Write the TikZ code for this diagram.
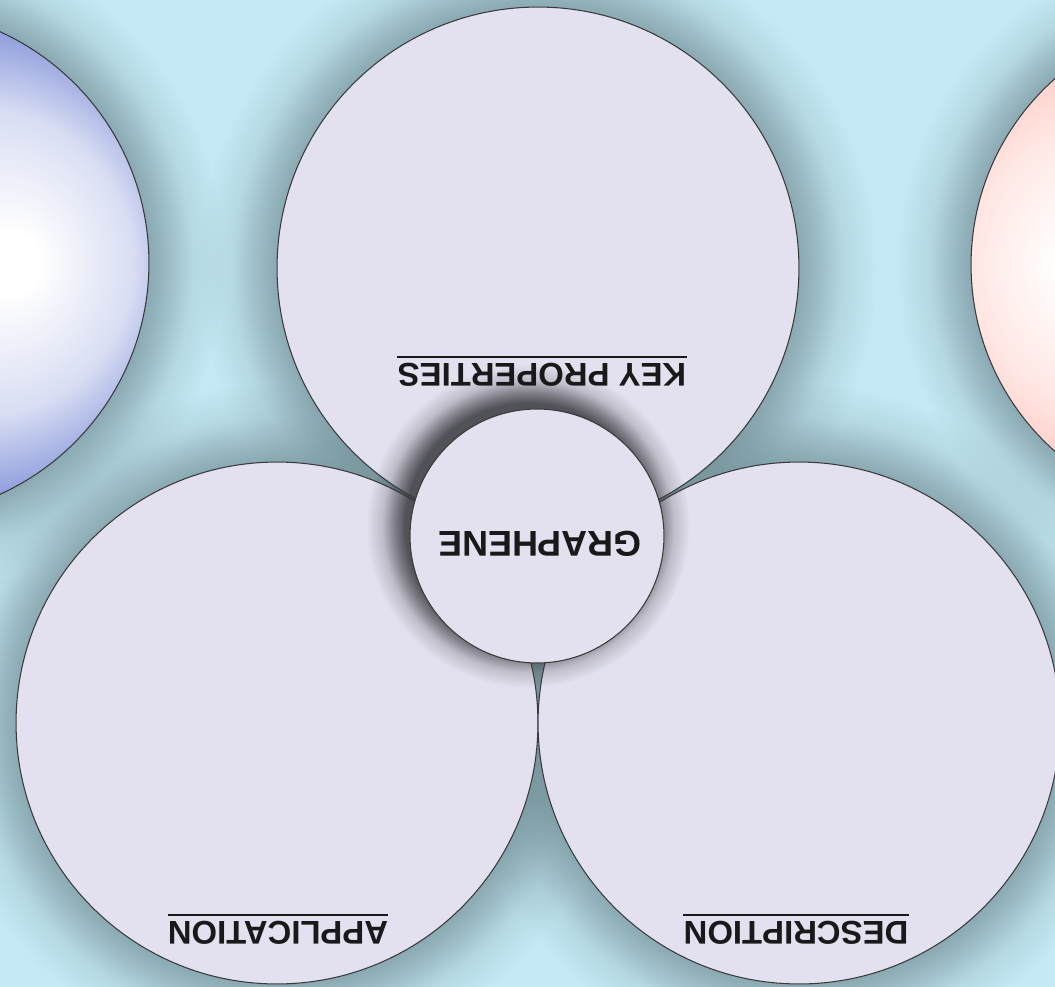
\documentclass[tikz,border=0pt]{standalone}
\usepackage{fontspec}
\usetikzlibrary{fadings}
\newfontfamily\lblfont{Liberation Sans}
\definecolor{bgblue}{HTML}{C5EAF5}
\definecolor{lavender}{HTML}{E3E1EF}
\definecolor{shadowgrey}{HTML}{6F8B93}
\definecolor{darkshade}{HTML}{38383E}
\definecolor{outline}{HTML}{3A3A3A}
\definecolor{sphereblue}{HTML}{7F90D8}
\definecolor{spherepink}{HTML}{FFC2BA}
\pgfdeclareradialshading{halo shading}{\pgfpointorigin}{color(0bp)=(pgftransparent!0); color(19bp)=(pgftransparent!0); color(20.5bp)=(pgftransparent!30); color(22.5bp)=(pgftransparent!75); color(25bp)=(pgftransparent!100); color(50bp)=(pgftransparent!100)}
\pgfdeclarefading{halo}{\pgfuseshading{halo shading}}
\pgfdeclareradialshading{blue sphere}{\pgfpoint{12bp}{0bp}}{color(0bp)=(white); color(3bp)=(white); color(15bp)=(sphereblue!30); color(25bp)=(sphereblue); color(50bp)=(sphereblue)}
\pgfdeclareradialshading{pink sphere}{\pgfpoint{-14bp}{0bp}}{color(0bp)=(white); color(3bp)=(white); color(15bp)=(spherepink!40); color(25bp)=(spherepink); color(50bp)=(spherepink)}
\begin{document}
\begin{tikzpicture}[x=0.02cm,y=-0.02cm,
  bigcirc/.style={circle,draw=outline,line width=0.6pt,fill=lavender,minimum size=10.44cm,inner sep=0pt},
  hub/.style={circle,draw=outline,line width=0.6pt,fill=lavender,minimum size=5.08cm,inner sep=0pt},
  sphere/.style={circle,draw=outline,line width=0.6pt,inner sep=0pt},
  glow/.style={fill=shadowgrey,opacity=.7,path fading=halo},
  lbl/.style={rotate=180,inner sep=0pt,text=black!90,font=\lblfont\bfseries\fontsize{18.7pt}{20pt}\selectfont},
  rule/.style={line width=1.1pt,black!90}]
\fill[bgblue] (0,0) rectangle (1055,987);
\useasboundingbox (0,0) rectangle (1055,987);

\coordinate (cblue) at (-105,263);
\coordinate (cpink) at (1220,265);
\coordinate (cprops) at (538,268);
\coordinate (capp) at (277,723);
\coordinate (cdesc) at (799,723);
\coordinate (chub) at (537,536);

\foreach \c/\r in {cblue/254,cpink/249,cprops/261,capp/261,cdesc/261}
  \fill[glow] (\c) circle ({\r*1.3});

\node at (cblue) [sphere,shading=blue sphere,minimum size=10.16cm] (blue) {};
\node at (cpink) [sphere,shading=pink sphere,minimum size=9.96cm] (pink) {};
\node at (cprops) [bigcirc] (props) {};
\node at (capp) [bigcirc] (app) {};
\node at (cdesc) [bigcirc] (desc) {};

\fill[fill=darkshade,opacity=.85,path fading=halo] ([shift={(-9,-10)}]chub) circle ({127*1.27});
\node at (chub) [hub] (graphene) {};

\node at (540,544) [lbl,font=\lblfont\bfseries\fontsize{20.4pt}{22pt}\selectfont] (graphenelbl) {GRAPHENE};
\node at (542,375) [lbl] (propslbl) {KEY PROPERTIES};
\draw[rule] ([yshift=3.4pt]propslbl.south west) -- ([yshift=3.4pt]propslbl.south east);
\node at (278,933) [lbl] (applbl) {APPLICATION};
\draw[rule] ([yshift=3.4pt]applbl.south west) -- ([yshift=3.4pt]applbl.south east);
\node at (796,933) [lbl] (desclbl) {DESCRIPTION};
\draw[rule] ([yshift=3.4pt]desclbl.south west) -- ([yshift=3.4pt]desclbl.south east);
\end{tikzpicture}
\end{document}
